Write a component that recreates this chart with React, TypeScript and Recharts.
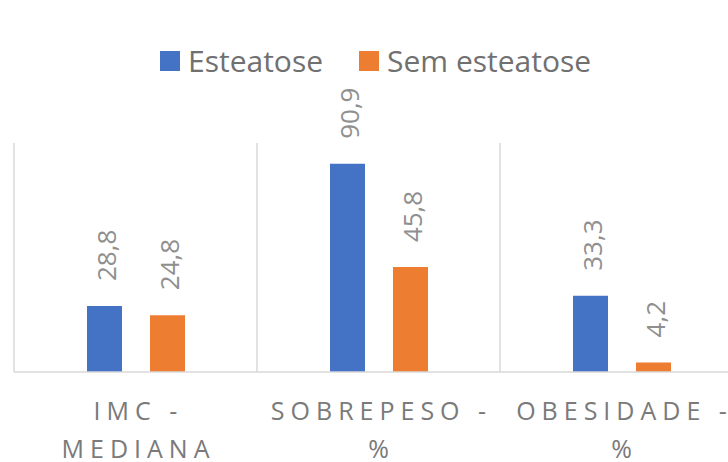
import { BarChart, Bar, XAxis, YAxis, CartesianGrid, Legend, LabelList } from 'recharts'

const categories = ['IMC - MEDIANA', 'SOBREPESO - %', 'OBESIDADE - %']
const esteatose = [28.8, 90.9, 33.3]
const semEsteatose = [24.8, 45.8, 4.2]

const SERIES = [
    { key: 'esteatose', name: 'Esteatose', color: '#4472C4' },
    { key: 'semEsteatose', name: 'Sem esteatose', color: '#ED7D31' },
]

const data = categories.map((name, i) => ({
    name,
    esteatose: esteatose[i],
    semEsteatose: semEsteatose[i],
}))

const FONT = '"Open Sans", "Noto Sans", sans-serif'

function CategoryTick({ x, y, payload }: any) {
    const [first, second] = String(payload.value).split(' - ')
    return (
        <text
            x={x + 3}
            y={y}
            textAnchor="middle"
            fill="#7a7a7a"
            fontSize={25}
            fontFamily={FONT}
            letterSpacing={6}
        >
            <tspan x={x + 3} dy={40}>{first} -</tspan>
            <tspan x={x + 3} dy={38}>{second}</tspan>
        </text>
    )
}

function ValueLabel(props: any) {
    const x = Number(props.x) + Number(props.width) / 2 + 2
    const y = Number(props.y) - 25
    const text = Number(props.value).toFixed(1).replace('.', ',')
    return (
        <text
            x={x}
            y={y}
            transform={`rotate(-90, ${x}, ${y})`}
            textAnchor="start"
            dominantBaseline="central"
            fill="#8f8f8f"
            fontSize={26}
            fontFamily={FONT}
        >
            {text}
        </text>
    )
}

function LegendContent() {
    return (
        <div style={{ height: 103, display: 'flex', alignItems: 'flex-start', paddingLeft: 160 }}>
            {SERIES.map((s) => (
                <div
                    key={s.key}
                    style={{ display: 'flex', alignItems: 'center', height: 42, marginRight: 36 }}
                >
                    <div style={{ width: 20, height: 20, backgroundColor: s.color, marginRight: 8 }} />
                    <span style={{ fontFamily: FONT, fontSize: 30, color: '#707070', lineHeight: '42px' }}>
                        {s.name}
                    </span>
                </div>
            ))}
        </div>
    )
}

export default function App() {
    return (
        <div
            style={{
                position: 'absolute',
                left: 0,
                top: 0,
                width: 728,
                height: 462,
                overflow: 'hidden',
                background: '#fff',
            }}
        >
            <BarChart
                width={760}
                height={462}
                data={data}
                margin={{ top: 40, right: 17, left: 14, bottom: 0 }}
                barCategoryGap={73}
                barGap={28}
            >
                <CartesianGrid
                    horizontal={false}
                    stroke="#d9d9d9"
                    strokeWidth={1.5}
                    verticalCoordinatesGenerator={({ offset }: any) =>
                        categories.map((_, i) => offset.left + (i * offset.width) / categories.length).concat(offset.left + offset.width)
                    }
                />
                <XAxis
                    dataKey="name"
                    height={90}
                    interval={0}
                    tickLine={false}
                    axisLine={{ stroke: '#d9d9d9', strokeWidth: 1.5 }}
                    tick={<CategoryTick />}
                />
                <YAxis hide domain={[0, 100]} />
                <Legend verticalAlign="top" wrapperStyle={{ left: 0 }} content={<LegendContent />} />
                {SERIES.map((s) => (
                    <Bar key={s.key} dataKey={s.key} name={s.name} fill={s.color} isAnimationActive={false}>
                        <LabelList dataKey={s.key} content={<ValueLabel />} />
                    </Bar>
                ))}
            </BarChart>
        </div>
    )
}
